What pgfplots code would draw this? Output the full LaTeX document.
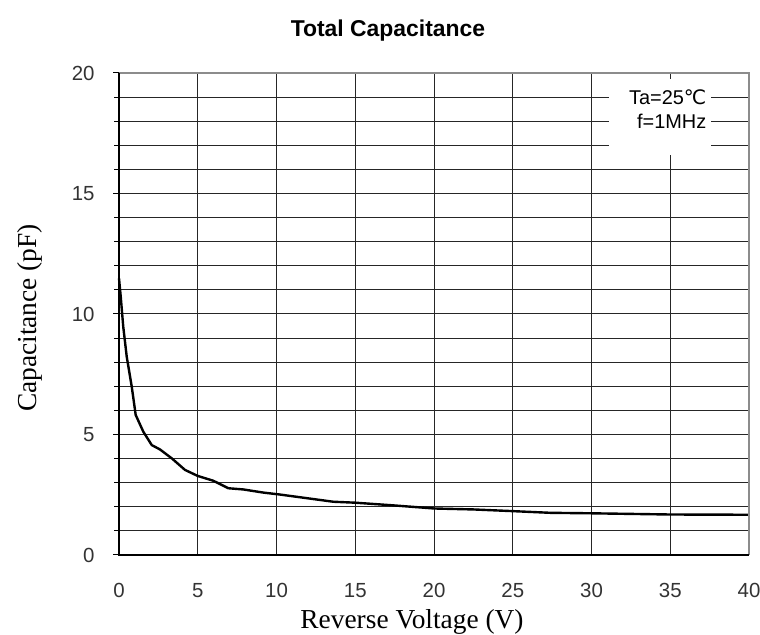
\documentclass[border=0pt]{standalone}
\usepackage{pgfplots}
\pgfplotsset{compat=1.18}
\usepackage{fontspec}
\setmainfont{Liberation Sans}
\newfontfamily\timesf{Liberation Serif}
\newfontfamily\dejavu{DejaVu Sans}
\begin{document}
\begin{tikzpicture}[x=1bp,y=1bp]
\useasboundingbox (0,0) rectangle (760,635);
\begin{axis}[
  at={(119bp,80bp)}, anchor=south west,
  scale only axis, width=630bp, height=482bp,
  xmin=0, xmax=40, ymin=0, ymax=20,
  xtick={0,5,...,40}, ytick={0,5,...,20},
  minor ytick={1,...,19},
  grid=both,
  major grid style={black!85, line width=1bp},
  minor grid style={black!85, line width=1bp},
  axis line style={draw=none},
  tick pos=left, tick align=outside,
  major tick length=6bp, minor tick length=5bp,
  xtick style={draw=none},
  ytick style={black, line width=1bp},
  minor tick style={black, line width=1bp},
  /pgf/number format/assume math mode=true,
  ticklabel style={font=\fontsize{20.5}{20.5}\selectfont, text=black!80},
  xticklabel style={yshift=-19bp},
  yticklabel style={xshift=-15bp},
  clip=false,
]
\fill[white] (axis cs:31.1,16.6) rectangle (axis cs:37.6,19.75);
\node[anchor=east, font=\fontsize{20}{20}\selectfont, inner sep=0pt] at (axis cs:37.3,19) {Ta=25{\dejavu ℃}};
\node[anchor=east, font=\fontsize{20}{20}\selectfont, inner sep=0pt] at (axis cs:37.3,18) {f=1MHz};
\addplot[black, line width=2.4bp] coordinates {
(0,11.48) (0.11,10.72) (0.27,9.47) (0.49,8.23) (0.81,6.98) (1.06,5.81)
(1.54,5.12) (2.08,4.56) (2.6,4.38) (3.35,4.01) (4.19,3.53) (5.0,3.28)
(5.99,3.08) (6.94,2.77) (7.89,2.72) (9.16,2.59) (10.2,2.51) (13.6,2.21)
(15,2.17) (17.4,2.06) (20,1.93) (22.5,1.89) (25,1.82) (27.4,1.75)
(30,1.73) (35,1.68) (40,1.67)
};
\draw[black!45, line width=1.1bp] (rel axis cs:0,1) -- (rel axis cs:1,1) -- (rel axis cs:1,0);
\draw[black, line width=1.3bp] (rel axis cs:0,1) -- (rel axis cs:0,0) -- (rel axis cs:1,0);
\end{axis}
\node[font=\bfseries\fontsize{23}{23}\selectfont] at (388,604) {Total Capacitance};
\node[font=\timesf\fontsize{27.5}{27.5}\selectfont] at (412,13) {Reverse Voltage (V)};
\node[font=\timesf\fontsize{27.5}{27.5}\selectfont, rotate=90] at (30,317) {Capacitance (pF)};
\end{tikzpicture}
\end{document}
